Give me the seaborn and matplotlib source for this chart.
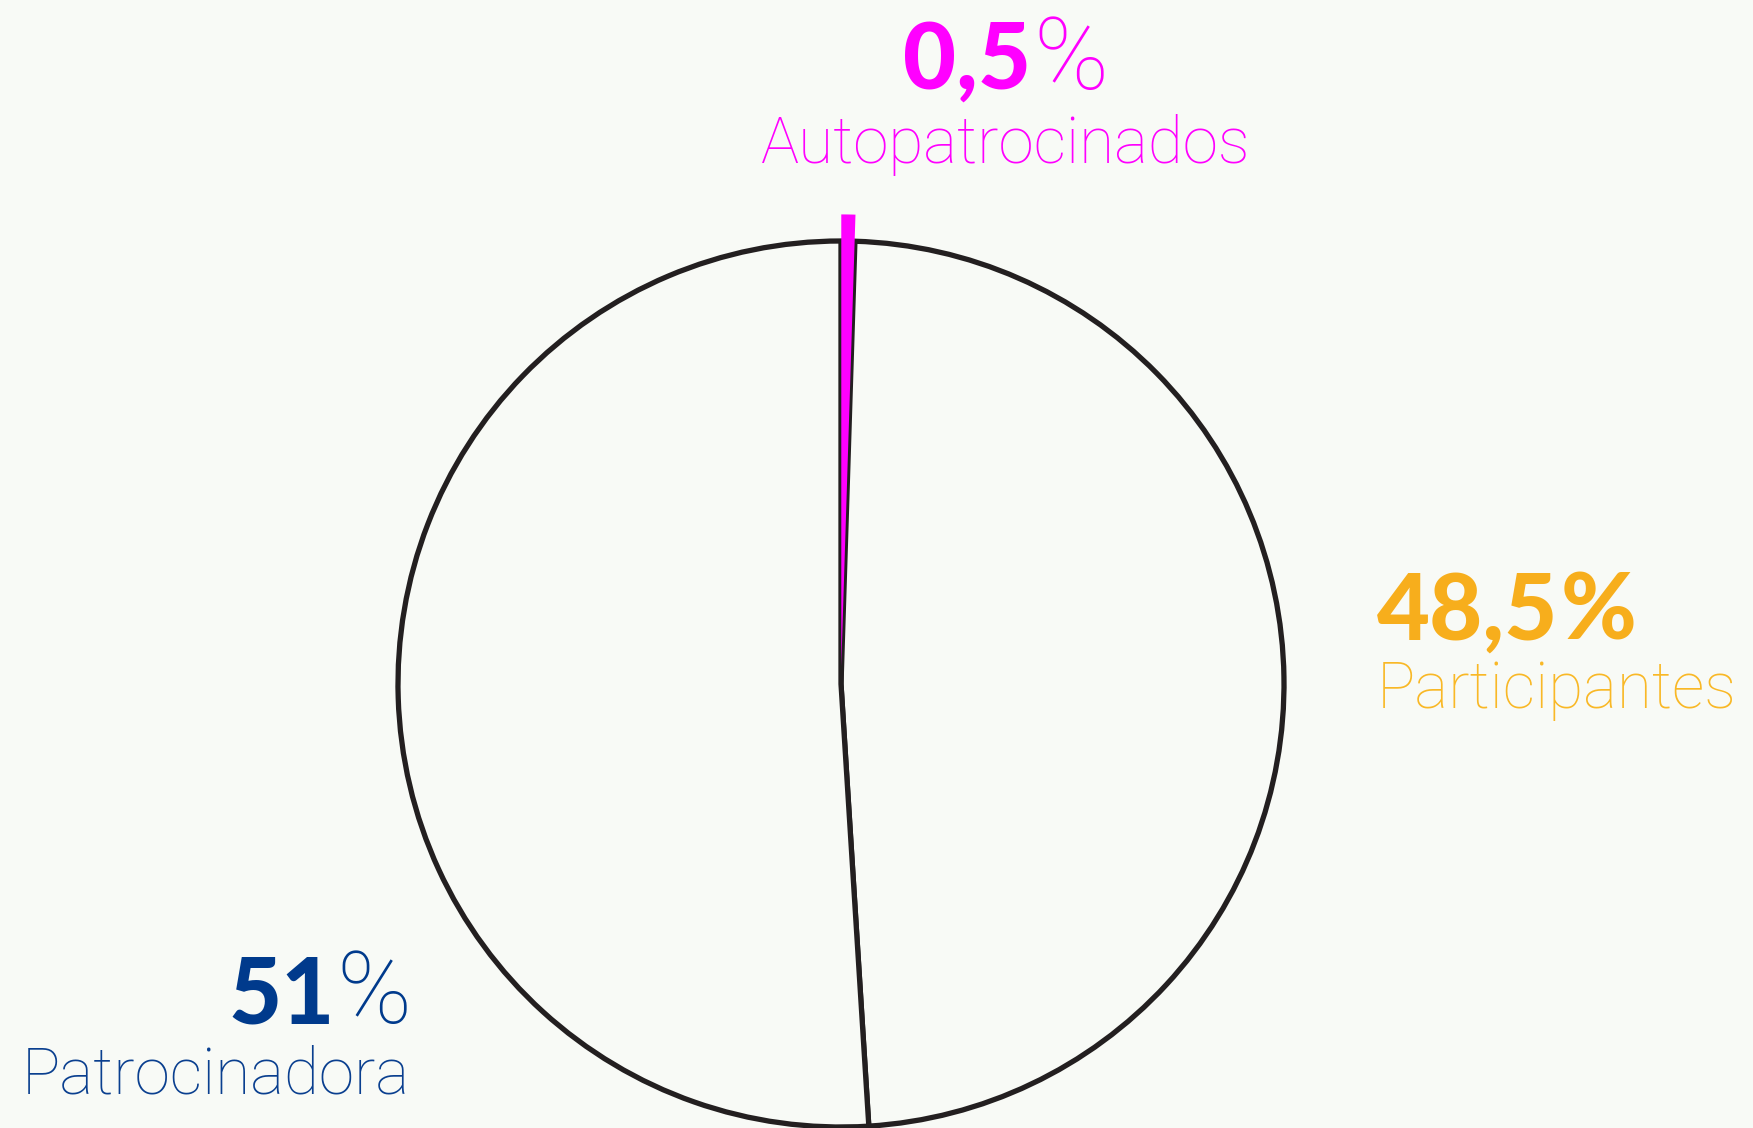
import matplotlib
matplotlib.use("Agg")
import matplotlib.pyplot as plt
import seaborn as sns

# Shares of contributions by source (%)
categories = ["Autopatrocinados", "Participantes", "Patrocinadora"]
shares = [0.5, 48.5, 51.0]
value_labels = ["0,5", "48,5", "51"]
label_colors = ["#FF00FF", "#F7AE1C", "#003A8C"]
name_colors = ["#FF00FF", "#F9B826", "#0A3F8F"]

BG = "#F8FAF6"
INK = "#231F20"
LIGHT_FONT = ["Roboto", "DejaVu Sans"]

sns.set_theme(style="white", rc={"figure.facecolor": BG, "axes.facecolor": BG})
plt.rcParams["font.family"] = ["Lato", "DejaVu Sans"]

W, H = 1753, 1128
fig = plt.figure(figsize=(W / 100, H / 100), dpi=100)

# pie centre and radius in pixels
cx, cy, r = 841, 684, 443
ax = fig.add_axes([(cx - r) / W, (H - cy - r) / H, 2 * r / W, 2 * r / H])

wedges, _ = ax.pie(
    shares,
    startangle=90,
    counterclock=False,
    explode=[0.04, 0, 0],
    colors=[label_colors[0], BG, BG],
    wedgeprops=dict(edgecolor=INK, linewidth=3.8),
)
# the small slice stands out a little beyond the rim, without outline
wedges[0].set_edgecolor("none")
wedges[0].set_radius(1.02)
wedges[0].set_zorder(3)
for w in wedges:
    w.set_clip_on(False)
ax.set_xlim(-1, 1)
ax.set_ylim(-1, 1)
ax.set_aspect("equal")
ax.axis("off")

renderer = fig.canvas.get_renderer()


def px(x, y):
    return x / W, 1 - y / H


def value_text(x, y, number, color, ha, size=66, bold_pct=False):
    """Bold number followed by a percent sign, sharing one baseline."""
    t1 = fig.text(0, 0, number, fontsize=size, fontweight="black", color=color, va="baseline")
    if bold_pct:
        t2 = fig.text(0, 0, "%", fontsize=size, fontweight="black", color=color, va="baseline")
    else:
        t2 = fig.text(0, 0, "%", fontsize=size * 1.1, fontweight="light",
                      family=LIGHT_FONT, color=color, va="baseline")
    w1 = t1.get_window_extent(renderer).width
    w2 = t2.get_window_extent(renderer).width
    total = w1 + w2
    if ha == "center":
        x0 = x - total / 2
    elif ha == "right":
        x0 = x - total
    else:
        x0 = x
    t1.set_position(px(x0, y))
    t2.set_position(px(x0 + w1 + 2, y))


def name_text(x, y, text, color, ha, size=46):
    fig.text(*px(x, y), text, fontsize=size, fontweight="light", family=LIGHT_FONT,
             color=color, ha=ha, va="baseline")


# Autopatrocinados (top)
value_text(1005, 89, value_labels[0], label_colors[0], "center")
name_text(1006, 163, categories[0], name_colors[0], "center")

# Participantes (right)
value_text(1377, 640, value_labels[1], label_colors[1], "left", bold_pct=True)
name_text(1377, 708, categories[1], name_colors[1], "left")

# Patrocinadora (bottom left)
value_text(410, 1023, value_labels[2], label_colors[2], "right")
name_text(410, 1093, categories[2], name_colors[2], "right")

fig.savefig("out.png", dpi=100, facecolor=BG)
